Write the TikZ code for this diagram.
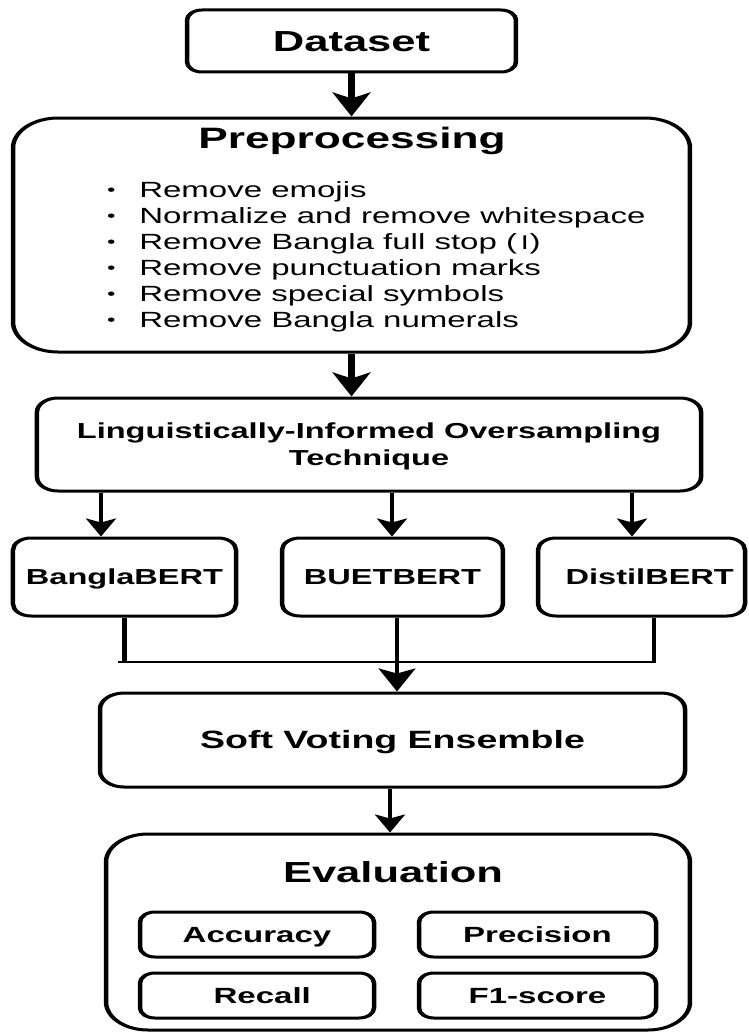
\documentclass[tikz,border=0pt]{standalone}
\usepackage{fontspec}
\setmainfont{Liberation Sans}
\newfontfamily\devfont[Script=Devanagari]{Noto Sans}
\usetikzlibrary{arrows.meta}
\newcommand{\fsz}[1]{\fontsize{#1}{#1}\selectfont}
\newcommand{\mybul}{\makebox[22.5pt][l]{\hspace{1pt}\raisebox{2pt}{\fsz{16}\textbullet}}}
\begin{document}
\begin{tikzpicture}[x=1pt,y=-1pt]
\path[use as bounding box, fill=white] (0,0) rectangle (748,1033);
\begin{scope}[transform canvas={xscale=1.5}, x=0.666667pt, y=-1pt,
  rbox/.style={draw=black, line width=3pt, rounded corners=#1, fill=white, inner sep=0pt, align=center},
  rbox/.default=12pt,
  bert/.style={rbox=12pt, minimum height=78pt, font=\bfseries\fsz{21.7}, text height=15.5pt, text depth=0pt},
  metric/.style={rbox=10pt, minimum height=45pt, font=\bfseries\fsz{22}, text height=15.75pt, text depth=0pt},
  item/.style={anchor=base west, inner sep=0pt, font=\fsz{22}},
  arrA/.style={line width=4.8pt, -{Stealth[length=24pt,width=25pt,inset=6pt]}},
  arrB/.style={line width=2.8pt, -{Stealth[length=18pt,width=20pt,inset=4pt]}},
  arrC/.style={line width=2.8pt, -{Stealth[length=23pt,width=24.5pt,inset=5pt]}},
  conn/.style={line width=2.8pt, line join=miter}
]
% boxes
\node[rbox=10pt, minimum width=219.3pt, minimum height=62pt, font=\bfseries\fsz{29}, text height=20.8pt, text depth=0pt] (data) at (351.5,41) {Dataset};
\node[rbox=30pt, minimum width=451.3pt, minimum height=234pt] (pre) at (351.5,235) {};
\node[anchor=base, inner sep=0pt, font=\bfseries\fsz{29.5}] (pret) at (352,148) {Preprocessing};
\node[item] (b1) at (105.2,197) {\mybul Remove emojis};
\node[item] (b2) at (105.2,223) {\mybul Normalize and remove whitespace};
\node[item] (b3) at (105.2,249) {\mybul Remove Bangla full stop ({\devfont ।})};
\node[item] (b4) at (105.2,275) {\mybul Remove punctuation marks};
\node[item] (b5) at (105.2,301) {\mybul Remove special symbols};
\node[item] (b6) at (105.2,327) {\mybul Remove Bangla numerals};

\node[rbox=14pt, minimum width=442.7pt, minimum height=93pt, font=\bfseries\fontsize{21.7}{27}\selectfont, text height=42.5pt, text depth=0pt] (liot) at (369,444.5) {Linguistically-Informed Oversampling\\Technique};

\node[bert, minimum width=148.7pt] (bangla) at (124.5,577) {BanglaBERT};
\node[bert, minimum width=147.3pt] (buet) at (392.5,577) {BUETBERT};
\node[bert, minimum width=138pt] (dist) at (641.5,577) {\hspace*{11pt}DistilBERT};

\node[rbox=16pt, minimum width=390pt, minimum height=94pt, font=\bfseries\fsz{25}, text height=17.9pt, text depth=0pt] (soft) at (392.5,740) {Soft Voting Ensemble};

\node[rbox=28pt, minimum width=389.3pt, minimum height=196pt] (eval) at (398,932) {};
\node[anchor=base, inner sep=0pt, font=\bfseries\fsz{29}] (evt) at (393,882) {Evaluation};
\node[metric, minimum width=156pt] (acc) at (257,934.5) {Accuracy};
\node[metric, minimum width=158pt] (prec) at (537.5,934.5) {Precision};
\node[metric, minimum width=156pt] (rec) at (257,995.5) {\hspace*{7pt}Recall};
\node[metric, minimum width=158pt] (f1) at (537.5,995.5) {F1-score};

% connector columns
\coordinate (c1) at (101,0);
\coordinate (c2) at (392,0);
\coordinate (c3) at (632,0);
\coordinate (c4) at (397,0);
\coordinate (c5) at (654,0);
\coordinate (c6) at (390,0);
\coordinate (hl) at (118,662);

\draw[arrA] (data.south) -- (data.south |- pre.north);
\draw[arrA] (pre.south) -- (pre.south |- liot.north);
\draw[arrB] (liot.south -| c1) -- (bangla.north -| c1);
\draw[arrB] (liot.south -| c2) -- (buet.north -| c2);
\draw[arrB] (liot.south -| c3) -- (dist.north -| c3);
\draw[conn] (bangla.south) -- (bangla.south |- hl);
\draw[conn] (dist.south -| c5) -- (hl -| c5) -- (hl);
\draw[arrC] (buet.south -| c4) -- (soft.north -| c4);
\draw[arrB] (soft.south -| c6) -- (eval.north -| c6);
\end{scope}
\end{tikzpicture}
\end{document}
